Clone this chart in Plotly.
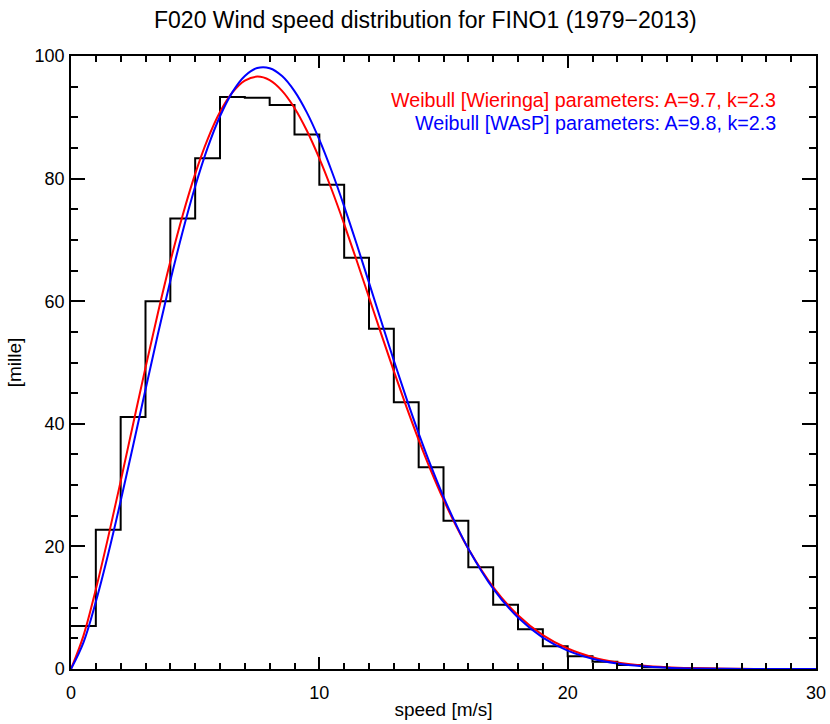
import plotly.graph_objects as go

# Histogram: 1 m/s bins from 0 to 30 m/s, values in mille
bin_edges = list(range(0, 31))
bin_vals = [7.0, 22.7, 41.1, 60.0, 73.5, 83.3, 93.3, 93.2, 92.0, 87.2,
            79.0, 67.1, 55.5, 43.5, 32.9, 24.2, 16.6, 10.5, 6.5, 3.7,
            2.1, 1.2, 0.65, 0.3, 0.12, 0.05, 0.0, 0.0, 0.0, 0.0]

# Weibull curves
curve_x = [0.0, 0.5, 1.0, 1.5, 2.0, 2.5, 3.0, 3.5, 4.0, 4.5, 5.0, 5.5, 6.0, 6.5,
           7.0, 7.5, 8.0, 8.5, 9.0, 9.5, 10.0, 10.5, 11.0, 11.5, 12.0, 12.5,
           13.0, 13.5, 14.0, 14.5, 15.0, 15.5, 16.0, 17, 18, 19, 20, 21, 22,
           23, 24, 25, 26, 27, 28, 29, 30]
red_vals = [0.0, 5.41, 12.99, 21.55, 30.64, 39.94, 49.17, 58.09, 66.46, 74.07,
            80.77, 86.4, 90.86, 94.06, 95.99, 96.64, 96.06, 94.32, 91.53, 87.81,
            83.3, 78.18, 72.58, 66.68, 60.62, 54.55, 48.59, 42.84, 37.39, 32.3,
            27.63, 23.4, 19.62, 13.38, 8.77, 5.52, 3.34, 1.94, 1.08, 0.58, 0.3,
            0.15, 0.07, 0.03, 0.01, 0.01, 0.0]
blue_vals = [0.0, 4.31, 10.96, 18.8, 27.4, 36.42, 45.59, 54.64, 63.33, 71.41,
             78.7, 85.0, 90.17, 94.11, 96.74, 98.04, 98.01, 96.73, 94.27, 90.76,
             86.35, 81.2, 75.48, 69.37, 63.03, 56.64, 50.33, 44.23, 38.44, 33.04,
             28.09, 23.61, 19.63, 13.12, 8.39, 5.13, 2.99, 1.67, 0.89, 0.45, 0.22,
             0.1, 0.04, 0.02, 0.01, 0.0, 0.0]

title_text = "F020 Wind speed distribution for FINO1 (1979\u22122013)"
red_label = "Weibull [Wieringa] parameters: A=9.7, k=2.3"
blue_label = "Weibull [WAsP] parameters: A=9.8, k=2.3"

FONT = "Liberation Sans, Arial, Helvetica, sans-serif"

fig = go.Figure()
fig.add_trace(go.Scatter(x=bin_edges, y=bin_vals + [bin_vals[-1]], mode="lines",
                         line=dict(color="black", width=2, shape="hv"),
                         hoverinfo="skip"))
fig.add_trace(go.Scatter(x=curve_x, y=red_vals, mode="lines",
                         line=dict(color="#ff0000", width=2, shape="spline")))
fig.add_trace(go.Scatter(x=curve_x, y=blue_vals, mode="lines",
                         line=dict(color="#0000ff", width=2, shape="spline")))

axis_common = dict(
    showgrid=False, zeroline=False, showline=True, linecolor="black", linewidth=1.5,
    mirror="ticks", ticks="inside", tickcolor="black", tickwidth=1.5,
    tickfont=dict(family=FONT, size=18, color="black"), automargin=False,
)

fig.update_xaxes(range=[0, 30], tickmode="linear", tick0=0, dtick=10, ticklen=12,
                 minor=dict(ticks="inside", dtick=1, ticklen=6, tickcolor="black",
                            tickwidth=1.5, showgrid=False),
                 ticklabelstandoff=7,
                 title=dict(text="speed [m/s]", font=dict(family=FONT, size=19, color="black"),
                            standoff=0),
                 **axis_common)
fig.update_yaxes(range=[0, 100], tickmode="linear", tick0=0, dtick=20, ticklen=14,
                 minor=dict(ticks="inside", dtick=5, ticklen=7, tickcolor="black",
                            tickwidth=1.5, showgrid=False),
                 ticklabelstandoff=1,
                 title=dict(text="[mille]", font=dict(family=FONT, size=19, color="black"),
                            standoff=8),
                 **axis_common)

fig.add_annotation(x=0.4765, y=1.0580, xref="paper", yref="paper", text=title_text,
                   showarrow=False, xanchor="center", yanchor="middle",
                   font=dict(family=FONT, size=23, color="black"))
fig.add_annotation(x=0.949, y=0.929, xref="paper", yref="paper", text=red_label,
                   showarrow=False, xanchor="right", yanchor="middle",
                   font=dict(family=FONT, size=19.7, color="#ff0000"))
fig.add_annotation(x=0.949, y=0.890, xref="paper", yref="paper", text=blue_label,
                   showarrow=False, xanchor="right", yanchor="middle",
                   font=dict(family=FONT, size=19.7, color="#0000ff"))

fig.update_layout(width=830, height=724, showlegend=False,
                  margin=dict(l=71, r=14, t=56, b=55),
                  paper_bgcolor="white", plot_bgcolor="white")
fig.write_html("out.html", config={"displayModeBar": False},
               post_script="document.body.style.margin='0';document.body.style.padding='0';")
